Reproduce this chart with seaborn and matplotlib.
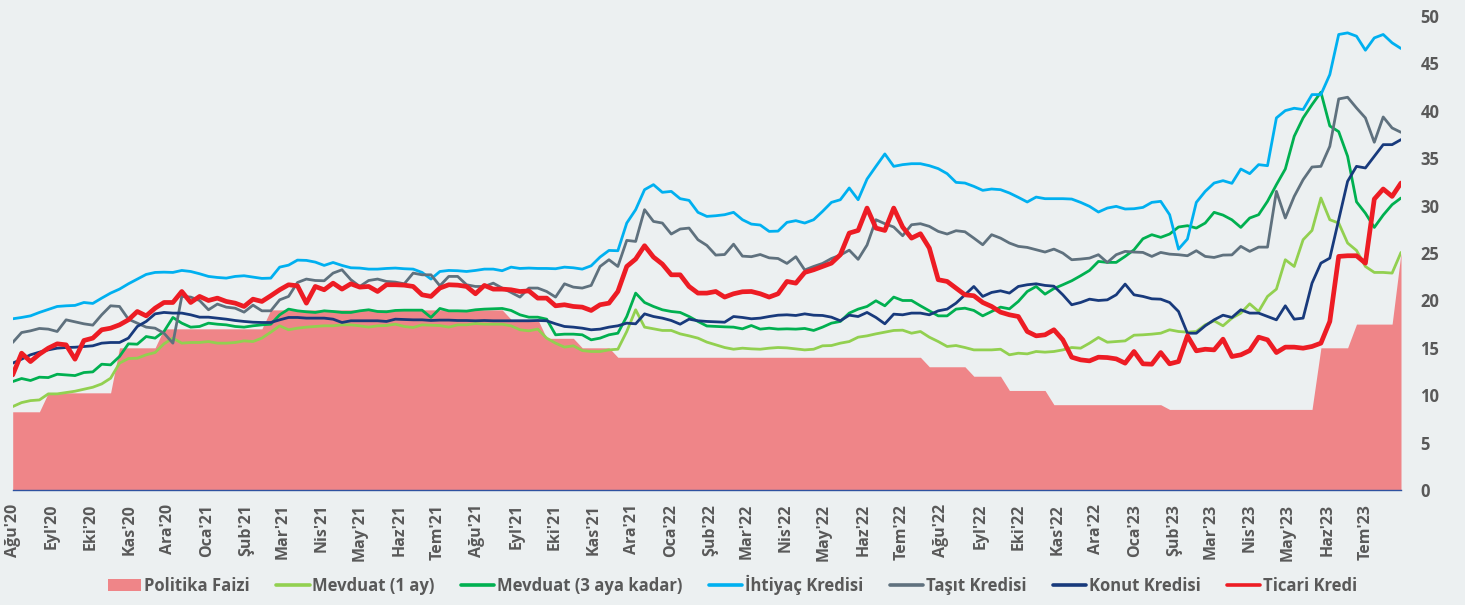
import pandas as pd
import matplotlib
matplotlib.use("Agg")
import matplotlib.pyplot as plt
from matplotlib.lines import Line2D
from matplotlib.patches import Patch
import seaborn as sns

# Weekly observations (Fridays), 28 Aug 2020 - 25 Aug 2023, in percent
START_DATE = "2020-08-28"
N_WEEKS = 157

politika_faizi = [
    8.25, 8.25, 8.25, 8.25,
    10.25, 10.25, 10.25, 10.25, 10.25, 10.25, 10.25, 10.25,
    15, 15, 15, 15, 15,
    17, 17, 17, 17, 17, 17, 17, 17, 17, 17, 17, 17,
    19, 19, 19, 19, 19, 19, 19, 19, 19, 19, 19, 19, 19, 19, 19, 19, 19, 19, 19, 19, 19, 19, 19, 19, 19, 19, 19,
    18, 18, 18, 18,
    16, 16, 16, 16,
    15, 15, 15, 15,
    14, 14, 14, 14, 14, 14, 14, 14, 14, 14, 14, 14, 14, 14, 14, 14, 14, 14, 14, 14, 14, 14, 14, 14, 14, 14, 14,
    14, 14, 14, 14, 14, 14, 14, 14,
    13, 13, 13, 13, 13,
    12, 12, 12, 12,
    10.5, 10.5, 10.5, 10.5, 10.5,
    9, 9, 9, 9, 9, 9, 9, 9, 9, 9, 9, 9, 9,
    8.5, 8.5, 8.5, 8.5, 8.5, 8.5, 8.5, 8.5, 8.5, 8.5, 8.5, 8.5, 8.5, 8.5, 8.5, 8.5, 8.5,
    15, 15, 15, 15,
    17.5, 17.5, 17.5, 17.5, 17.5,
    25,
]

mevduat_1ay = [
    8.8, 9.22, 9.43, 9.5, 10.14, 10.14, 10.28, 10.42, 10.63, 10.84, 11.19, 11.79, 13.38, 13.87, 13.9, 14.26, 14.5, 15.42, 16.02,
    15.49, 15.56, 15.56, 15.66, 15.49, 15.49, 15.56, 15.73, 15.66, 16.02, 16.65, 17.32, 16.9, 17.07, 17.18, 17.25, 17.32, 17.32, 17.42, 17.42,
    17.32, 17.18, 17.32, 17.35, 17.49, 17.25, 17.14, 17.42, 17.39, 17.35, 17.18, 17.42, 17.42, 17.56, 17.49, 17.49, 17.49, 17.32, 16.9, 16.79,
    16.97, 16.02, 15.49, 15.07, 15.21, 14.71, 14.61, 14.61, 14.78, 14.85, 16.72, 19.01, 17.18, 17.0, 16.83, 16.83, 16.47, 16.26, 16.02, 15.6,
    15.31, 15.03, 14.85, 14.96, 14.89, 14.85, 14.96, 15.03, 14.99, 14.89, 14.78, 14.85, 15.21, 15.24, 15.49, 15.66, 16.12, 16.26, 16.47,
    16.65, 16.83, 16.86, 16.54, 16.72, 16.12, 15.66, 15.14, 15.24, 15.03, 14.78, 14.78, 14.78, 14.85, 14.26, 14.43, 14.36, 14.61, 14.54, 14.61,
    14.78, 15.03, 14.96, 15.49, 16.09, 15.59, 15.66, 15.73, 16.33, 16.37, 16.44, 16.54, 16.9, 16.72, 16.65, 16.72, 17.42, 17.85, 17.32, 18.13,
    18.66, 19.64, 18.83, 20.42, 21.19, 24.29, 23.58, 26.4, 27.38, 30.8, 28.51, 28.16, 26.05, 25.27, 23.58, 22.95, 22.95, 22.88, 25.06,
]

mevduat_3ay = [
    11.44, 11.76, 11.55, 11.9, 11.86, 12.21, 12.14, 12.07, 12.39, 12.46, 13.27, 13.2, 14.08, 15.42, 15.38, 16.19, 16.02, 16.72, 18.2,
    17.6, 17.18, 17.25, 17.6, 17.49, 17.42, 17.25, 17.18, 17.32, 17.42, 17.49, 18.48, 19.08, 18.9, 18.8, 18.73, 18.9, 18.83, 18.73, 18.73,
    18.9, 19.01, 18.83, 18.8, 18.94, 18.97, 18.97, 18.97, 18.2, 19.15, 18.9, 18.9, 18.87, 19.01, 19.08, 19.11, 19.15, 18.94, 18.48, 18.23,
    18.23, 18.02, 16.37, 16.44, 16.44, 16.37, 15.84, 16.02, 16.37, 16.54, 18.3, 20.77, 19.78, 19.36, 19.01, 18.83, 18.73, 18.3, 17.78, 17.3,
    17.25, 17.21, 17.18, 17.0, 17.35, 16.97, 17.07, 16.97, 17.0, 16.97, 17.04, 16.83, 17.18, 17.6, 17.78, 18.66, 19.08, 19.36, 19.96,
    19.43, 20.35, 19.99, 19.99, 19.43, 18.9, 18.37, 18.37, 19.08, 19.18, 18.94, 18.37, 18.83, 19.29, 19.11, 19.89, 20.94, 21.47, 20.66, 21.25,
    21.65, 22.07, 22.6, 23.16, 24.11, 24.01, 24.01, 24.64, 25.34, 26.5, 26.93, 26.65, 27.0, 27.74, 27.88, 27.63, 28.16, 29.29, 29.0, 28.5,
    27.7, 28.69, 29.04, 30.45, 32.21, 33.86, 37.31, 39.25, 40.65, 41.96, 38.4, 37.8, 35.2, 30.4, 29.2, 27.7, 29.0, 30.1, 30.8,
]

ihtiyac_kredisi = [
    18.06, 18.2, 18.37, 18.73, 19.04, 19.36, 19.43, 19.47, 19.78, 19.68, 20.24, 20.77, 21.19, 21.75, 22.25, 22.74, 22.95, 22.98, 22.95,
    23.16, 23.05, 22.81, 22.53, 22.42, 22.35, 22.53, 22.6, 22.46, 22.32, 22.35, 23.51, 23.72, 24.25, 24.22, 24.04, 23.69, 24.0, 23.69, 23.44,
    23.41, 23.3, 23.3, 23.37, 23.41, 23.34, 23.3, 22.95, 22.25, 23.05, 23.16, 23.13, 23.05, 23.16, 23.3, 23.3, 23.13, 23.51, 23.37, 23.41,
    23.37, 23.37, 23.34, 23.51, 23.44, 23.3, 23.65, 24.57, 25.27, 25.24, 28.16, 29.57, 31.68, 32.21, 31.4, 31.5, 30.73, 30.55, 29.29, 28.86,
    28.93, 29.04, 29.29, 28.51, 28.05, 27.95, 27.28, 27.31, 28.23, 28.41, 28.16, 28.51, 29.39, 30.34, 30.62, 31.86, 30.62, 32.8, 34.14,
    35.45, 34.14, 34.32, 34.42, 34.42, 34.21, 33.9, 33.37, 32.45, 32.38, 32.03, 31.61, 31.75, 31.68, 31.33, 30.87, 30.38, 30.9, 30.73, 30.73,
    30.73, 30.69, 30.34, 29.92, 29.32, 29.74, 29.92, 29.64, 29.67, 29.81, 30.34, 30.45, 29.04, 25.41, 26.47, 30.34, 31.5, 32.38, 32.63, 32.35,
    33.86, 33.37, 34.32, 34.21, 39.25, 40.02, 40.27, 40.13, 41.71, 41.71, 43.82, 48.05, 48.22, 47.87, 46.39, 47.69, 48.05, 47.17, 46.57,
]

tasit_kredisi = [
    15.56, 16.61, 16.79, 17.04, 16.97, 16.72, 17.95, 17.74, 17.53, 17.39, 18.48, 19.43, 19.36, 18.02, 17.6, 17.18, 17.07, 16.54, 15.49,
    20.42, 20.35, 19.99, 19.01, 19.61, 19.29, 19.18, 18.76, 19.5, 18.9, 18.9, 20.06, 20.42, 21.89, 22.25, 22.1, 22.07, 22.88, 23.23, 22.18,
    21.47, 22.1, 22.25, 22.0, 21.93, 21.75, 22.88, 22.7, 22.7, 21.54, 22.53, 22.53, 21.65, 21.47, 21.47, 21.82, 21.3, 20.84, 20.35, 21.3,
    21.3, 20.94, 20.35, 21.75, 21.4, 21.3, 21.58, 23.58, 24.29, 23.58, 26.33, 26.22, 29.57, 28.33, 28.16, 27.0, 27.53, 27.63, 26.4, 25.8,
    24.78, 24.84, 25.93, 24.67, 24.61, 24.84, 24.49, 24.42, 23.9, 24.61, 23.21, 23.58, 23.9, 24.42, 24.78, 25.3, 24.33, 25.84, 28.51,
    28.09, 27.74, 26.82, 27.98, 28.09, 27.81, 27.28, 27.0, 27.35, 27.24, 26.57, 25.87, 26.93, 26.57, 26.05, 25.7, 25.59, 25.34, 25.1, 25.41,
    24.99, 24.29, 24.36, 24.46, 24.82, 24.0, 24.82, 25.17, 25.1, 25.06, 24.64, 25.06, 24.88, 24.82, 24.71, 25.24, 24.64, 24.53, 24.78, 24.8,
    25.7, 25.17, 25.62, 25.62, 31.5, 28.69, 30.97, 32.73, 34.07, 34.14, 36.25, 41.25, 41.43, 40.3, 39.25, 36.68, 39.35, 38.19, 37.73,
]

konut_kredisi = [
    13.38, 13.8, 14.26, 14.54, 14.78, 14.96, 15.03, 15.06, 15.14, 15.21, 15.49, 15.56, 15.56, 16.02, 17.25, 17.78, 18.58, 18.73, 18.66,
    18.66, 18.48, 18.23, 18.23, 18.13, 18.02, 17.88, 17.78, 17.7, 17.67, 17.67, 17.95, 18.2, 18.2, 18.13, 18.13, 18.13, 18.02, 17.67, 17.85,
    17.85, 17.85, 17.85, 17.78, 18.02, 17.99, 17.95, 17.95, 17.88, 17.92, 17.92, 17.88, 17.88, 17.85, 17.88, 17.85, 17.85, 17.85, 17.85, 17.85,
    17.88, 17.85, 17.53, 17.25, 17.18, 17.07, 16.9, 16.97, 17.18, 17.32, 17.6, 17.53, 18.58, 18.3, 18.13, 17.88, 17.49, 18.02, 17.85, 17.78,
    17.74, 17.7, 18.3, 18.2, 18.06, 18.13, 18.3, 18.44, 18.48, 18.41, 18.58, 18.44, 18.41, 18.23, 17.85, 18.44, 18.3, 18.73, 18.2,
    17.53, 18.55, 18.48, 18.66, 18.66, 18.48, 18.9, 19.08, 19.71, 20.59, 21.47, 20.42, 20.84, 21.01, 20.77, 21.47, 21.65, 21.75, 21.58, 21.5,
    20.59, 19.54, 19.78, 20.13, 19.99, 20.06, 20.59, 21.72, 20.59, 20.42, 20.17, 20.13, 19.78, 18.83, 16.54, 16.54, 17.32, 17.95, 18.44, 18.2,
    19.01, 18.66, 18.66, 18.3, 17.95, 19.43, 18.02, 18.13, 21.82, 23.93, 24.46, 28.51, 32.56, 34.14, 33.97, 35.2, 36.43, 36.43, 36.96,
]

ticari_kredi = [
    12.14, 14.43, 13.55, 14.33, 14.96, 15.42, 15.31, 13.8, 15.77, 16.02, 16.9, 17.07, 17.42, 17.95, 18.83, 18.37, 19.18, 19.78, 19.78,
    20.94, 19.78, 20.42, 19.99, 20.24, 19.89, 19.71, 19.36, 20.13, 19.89, 20.49, 21.12, 21.65, 21.54, 19.71, 21.47, 21.12, 21.82, 21.19, 21.75,
    21.4, 21.47, 20.94, 21.65, 21.65, 21.61, 21.47, 20.59, 20.42, 21.3, 21.65, 21.61, 21.47, 20.7, 21.58, 21.19, 21.19, 21.12, 20.94, 21.0,
    20.24, 20.24, 19.43, 19.54, 19.36, 19.29, 18.94, 19.54, 19.71, 20.94, 23.58, 24.36, 25.77, 24.57, 23.83, 22.7, 22.7, 21.47, 20.77, 20.77,
    20.94, 20.35, 20.7, 20.91, 20.94, 20.7, 20.35, 20.7, 22.0, 21.82, 22.95, 23.23, 23.58, 23.93, 24.82, 27.1, 27.38, 29.74, 27.63,
    27.38, 29.74, 27.74, 26.57, 27.03, 25.52, 22.18, 22.0, 21.3, 20.59, 20.49, 19.78, 19.36, 18.76, 18.48, 18.3, 16.72, 16.26, 16.37, 16.9,
    15.84, 14.01, 13.73, 13.62, 14.01, 13.97, 13.83, 13.38, 14.61, 13.31, 13.27, 14.5, 13.31, 13.55, 16.26, 14.68, 14.85, 14.78, 15.91, 14.08,
    14.26, 14.71, 16.12, 15.84, 14.5, 15.07, 15.07, 14.96, 15.14, 15.49, 17.78, 24.64, 24.71, 24.71, 23.93, 30.69, 31.75, 30.97, 32.38,
]

# Monthly tick labels (Turkish month abbreviations), one per month from the first date
tick_labels = [
    "Ağu'20", "Eyl'20", "Eki'20", "Kas'20", "Ara'20",
    "Oca'21", "Şub'21", "Mar'21", "Nis'21", "May'21", "Haz'21",
    "Tem'21", "Ağu'21", "Eyl'21", "Eki'21", "Kas'21", "Ara'21",
    "Oca'22", "Şub'22", "Mar'22", "Nis'22", "May'22", "Haz'22",
    "Tem'22", "Ağu'22", "Eyl'22", "Eki'22", "Kas'22", "Ara'22",
    "Oca'23", "Şub'23", "Mar'23", "Nis'23", "May'23", "Haz'23", "Tem'23",
]

y_ticks = [0, 5, 10, 15, 20, 25, 30, 35, 40, 45, 50]

line_names = ["Mevduat (1 ay)", "Mevduat (3 aya kadar)", "İhtiyaç Kredisi",
              "Taşıt Kredisi", "Konut Kredisi", "Ticari Kredi"]
area_name = "Politika Faizi"

colors = {
    "Politika Faizi": "#EF8588",
    "Mevduat (1 ay)": "#92D050",
    "Mevduat (3 aya kadar)": "#00B050",
    "İhtiyaç Kredisi": "#00B0F0",
    "Taşıt Kredisi": "#5F717E",
    "Konut Kredisi": "#183A7C",
    "Ticari Kredi": "#ED1C24",
}
widths = {
    "Mevduat (1 ay)": 2.0,
    "Mevduat (3 aya kadar)": 2.0,
    "İhtiyaç Kredisi": 2.0,
    "Taşıt Kredisi": 2.0,
    "Konut Kredisi": 2.0,
    "Ticari Kredi": 3.4,
}

BG = "#ECF0F1"
TEXT = "#595959"

dates = pd.date_range(START_DATE, periods=N_WEEKS, freq="7D")
df = pd.DataFrame({
    "Tarih": dates,
    "Politika Faizi": politika_faizi,
    "Mevduat (1 ay)": mevduat_1ay,
    "Mevduat (3 aya kadar)": mevduat_3ay,
    "İhtiyaç Kredisi": ihtiyac_kredisi,
    "Taşıt Kredisi": tasit_kredisi,
    "Konut Kredisi": konut_kredisi,
    "Ticari Kredi": ticari_kredi,
})

sns.set_theme(style="white")
plt.rcParams["font.family"] = ["Open Sans", "DejaVu Sans"]
plt.rcParams["font.weight"] = "bold"

fig = plt.figure(figsize=(14.65, 6.05), dpi=100, facecolor=BG)
ax = fig.add_axes([12.7 / 1465, 115 / 605, (1401 - 12.7) / 1465, (490 - 16) / 605])
ax.set_facecolor(BG)

# policy rate as a filled area
ax.fill_between(df["Tarih"], 0, df[area_name], color=colors[area_name],
                linewidth=0, zorder=1)

for z, name in enumerate(line_names):
    sns.lineplot(data=df, x="Tarih", y=name, ax=ax, color=colors[name],
                 linewidth=widths[name], legend=False, zorder=3 + z)

ax.set_xlim(dates[0], dates[-1])
ax.set_ylim(0, 50)
ax.set_xlabel("")
ax.set_ylabel("")

# ticks fall on the 28th of every month, starting with the first observation
first = pd.Timestamp(START_DATE)
tick_dates = [first + pd.DateOffset(months=k) for k in range(len(tick_labels))]
ax.set_xticks(tick_dates)
ax.set_xticklabels(tick_labels, rotation=90, ha="center", va="top")
ax.yaxis.tick_right()
ax.set_yticks(y_ticks)
ax.set_yticklabels([str(v) for v in y_ticks])
ax.tick_params(axis="x", length=0, pad=10, labelsize=11.5, labelcolor=TEXT)
ax.tick_params(axis="y", length=0, pad=14, labelsize=12, labelcolor=TEXT)

for side in ["top", "left", "right"]:
    ax.spines[side].set_visible(False)
ax.spines["bottom"].set_color("#2F52A0")
ax.spines["bottom"].set_linewidth(1.0)
ax.spines["bottom"].set_zorder(10)
ax.grid(False)

handles = [Patch(facecolor=colors[area_name], edgecolor="none")]
handles += [Line2D([], [], color=colors[n], linewidth=2.6) for n in line_names]
labels = [area_name] + line_names
leg = fig.legend(handles, labels, loc="center", bbox_to_anchor=(0.5, 0.033), ncol=7,
                 frameon=False, fontsize=12, handlelength=2.0, handleheight=0.7,
                 handletextpad=0.15, columnspacing=1.6)
for t in leg.get_texts():
    t.set_color(TEXT)
    t.set_fontweight("bold")

fig.savefig("out.png", dpi=100, facecolor=BG)
